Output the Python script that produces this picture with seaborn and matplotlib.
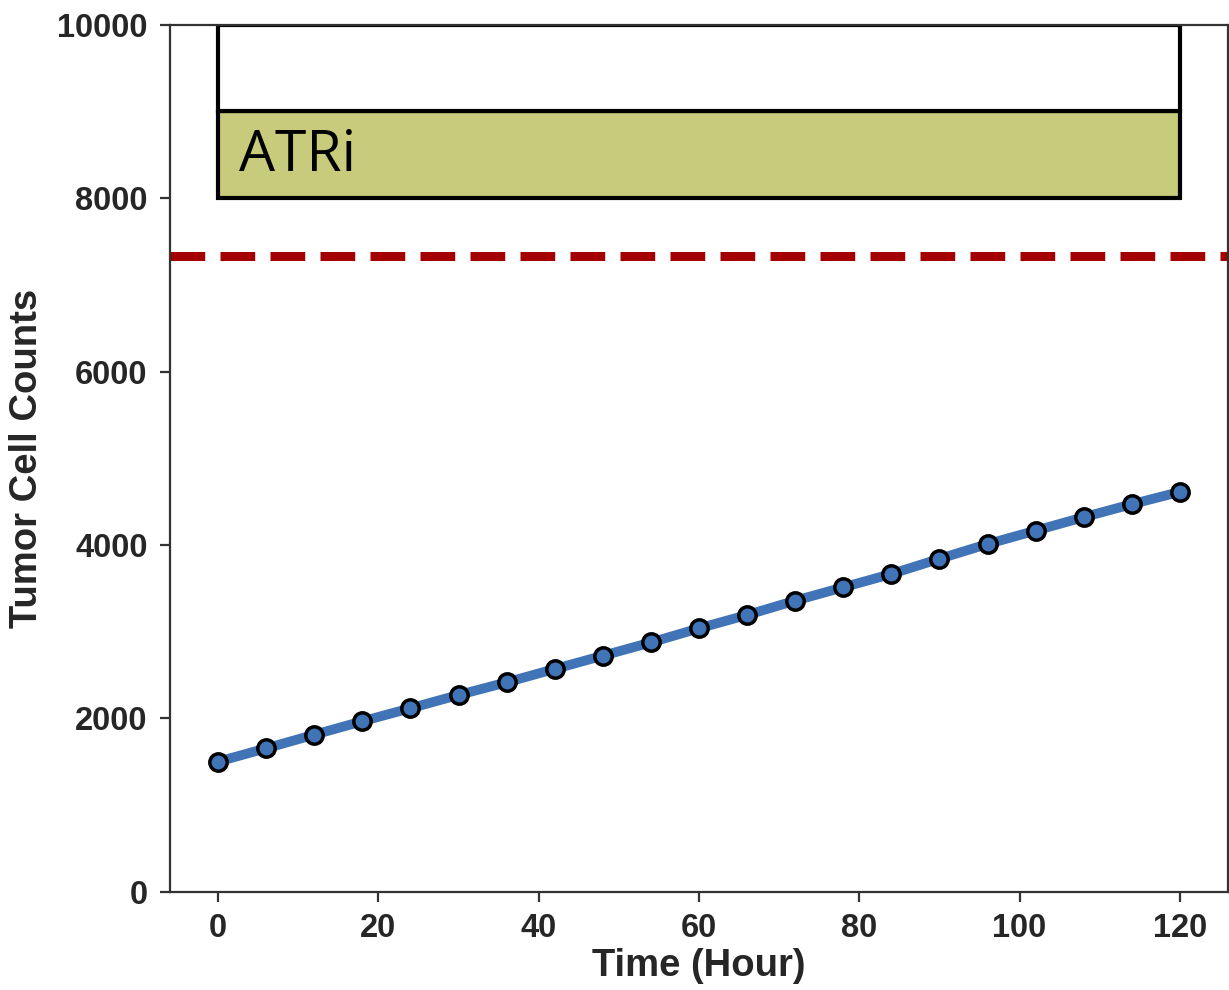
import matplotlib
matplotlib.use("Agg")
import matplotlib.pyplot as plt
import seaborn as sns
import pandas as pd

# Simulated tumor growth under ATR inhibitor treatment
time_hours = [0, 6, 12, 18, 24, 30, 36, 42, 48, 54, 60,
              66, 72, 78, 84, 90, 96, 102, 108, 114, 120]
cell_counts = [1500, 1654, 1811, 1966, 2116, 2269, 2415, 2569, 2722, 2875, 3038,
               3192, 3357, 3511, 3665, 3840, 4010, 4165, 4320, 4470, 4612]

threshold = 7336

# Treatment schedule bands (drug name, start, end, lower, upper)
drug_names = ["ATRi", ""]
drug_start = [0, 0]
drug_end = [120, 120]
band_low = [8000, 9000]
band_high = [9000, 10000]
band_colors = ["#c7cb7b", "#ffffff"]

x_ticks = [0, 20, 40, 60, 80, 100, 120]
y_ticks = [0, 2000, 4000, 6000, 8000, 10000]

sns.set_theme(style="ticks")
plt.rcParams["font.family"] = ["Liberation Sans", "DejaVu Sans"]
plt.rcParams["lines.scale_dashes"] = False

fig = plt.figure(figsize=(12.29, 9.90), dpi=100)
ax = fig.add_axes([0.1383, 0.0993, 0.8609, 0.8757])

# Treatment bands as horizontal bars
for name, s, e, lo, hi, c in zip(drug_names, drug_start, drug_end, band_low, band_high, band_colors):
    ax.barh(y=(lo + hi) / 2, width=e - s, left=s, height=hi - lo,
            color=c, edgecolor="black", linewidth=3, zorder=2)
    if name:
        ax.text(s + 2.6, lo + 313, name, fontsize=41, color="black",
                family=["Open Sans", "DejaVu Sans"], va="baseline", ha="left", zorder=3)

# Threshold line
ax.axhline(threshold, color="#a50000", linewidth=6.5, dashes=(25, 11), zorder=2)

# Tumor cell count trajectory
df = pd.DataFrame({"Time": time_hours, "Count": cell_counts})
sns.lineplot(data=df, x="Time", y="Count", ax=ax, color="#4173b7", linewidth=7,
             marker="o", markersize=12.5, markerfacecolor="#4173b7",
             markeredgecolor="black", markeredgewidth=2.5, zorder=4)

ax.set_xlim(-6, 126)
ax.set_ylim(0, 10000)
ax.set_xticks(x_ticks)
ax.set_yticks(y_ticks)

for side in ["left", "bottom", "top", "right"]:
    ax.spines[side].set_visible(True)
    ax.spines[side].set_linewidth(1.6)
    ax.spines[side].set_color("#333333")

ax.tick_params(axis="both", which="both", length=7, width=1.6, color="#333333",
               labelsize=23.5, labelcolor="#262626", top=False, right=False)
ax.tick_params(axis="x", pad=8)
ax.tick_params(axis="y", pad=9)
for lbl in ax.get_xticklabels() + ax.get_yticklabels():
    lbl.set_fontweight("bold")

ax.set_xlabel("Time (Hour)", fontsize=27.5, fontweight="bold", color="#262626", labelpad=3)
ax.set_ylabel("Tumor Cell Counts", fontsize=27.5, fontweight="bold", color="#262626", labelpad=9)

fig.savefig("out.png", dpi=100)
